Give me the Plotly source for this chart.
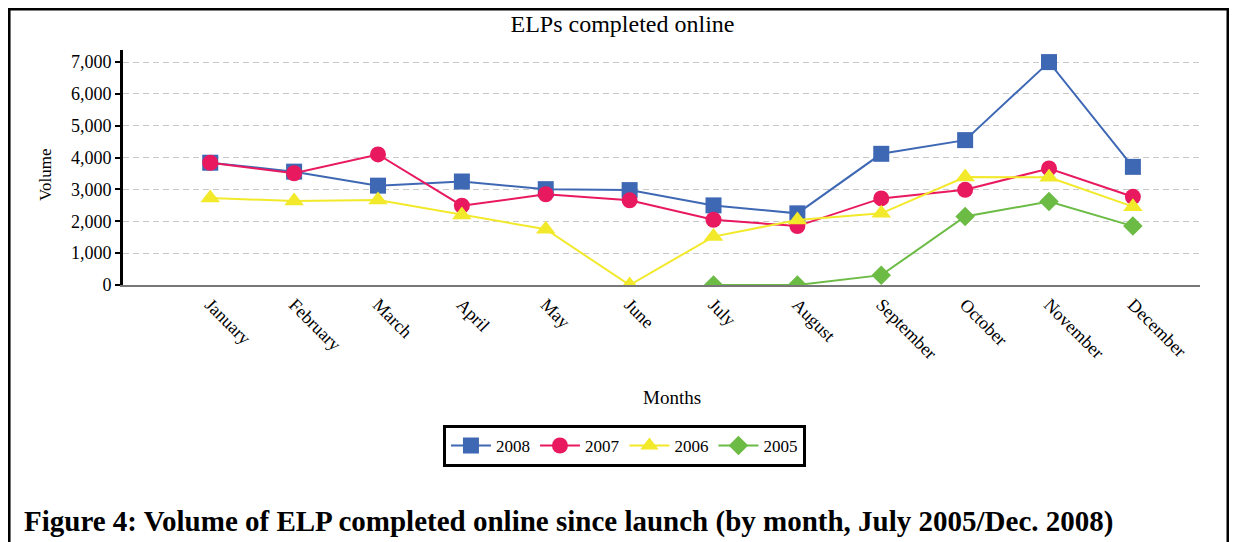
import plotly.graph_objects as go

months = ['January', 'February', 'March', 'April', 'May', 'June',
          'July', 'August', 'September', 'October', 'November', 'December']

vol_2008 = [3840, 3560, 3120, 3250, 3010, 2980, 2500, 2250, 4120, 4550, 7000, 3710]
vol_2007 = [3840, 3510, 4100, 2490, 2850, 2660, 2050, 1850, 2720, 2990, 3660, 2770]
vol_2006 = [2730, 2640, 2670, 2200, 1750, 0, 1520, 2040, 2250, 3390, 3380, 2460]
vol_2005 = [None, None, None, None, None, None, 0, 0, 310, 2150, 2620, 1850]

serif = 'Liberation Serif'

fig = go.Figure()

series = [
    ('2008', vol_2008, '#3f68b4', 'square', 16),
    ('2007', vol_2007, '#e8195f', 'circle', 16),
    ('2006', vol_2006, '#f2e92b', 'triangle-up', 17),
    ('2005', vol_2005, '#6cbb45', 'diamond', 15),
]
for name, vals, color, symbol, size in series:
    fig.add_trace(go.Scatter(x=months, y=vals, name=name, mode='lines+markers',
                             line=dict(color=color, width=2),
                             marker=dict(symbol=symbol, size=size, color=color),
                             connectgaps=False))

# the page body adds 8px margin, so the figure is 8px smaller and shifted
fig.update_layout(
    width=1229, height=534,
    margin=dict(l=115, r=37, t=42, b=257),
    paper_bgcolor='white', plot_bgcolor='white',
    font=dict(family=serif, color='black', size=15),
    title=dict(text='ELPs completed online', x=0.5, xanchor='center',
               y=1 - 16 / 534, yanchor='middle',
               font=dict(family=serif, size=24, color='black')),
    showlegend=True,
    legend=dict(orientation='h', x=0.4656, y=-0.685, xanchor='center', yanchor='middle',
                bordercolor='black', borderwidth=3, bgcolor='white',
                font=dict(family=serif, size=17), itemwidth=40),
)

fig.update_xaxes(range=[-1.04, 11.8], tickangle=45, showgrid=False,
                 showline=True, linecolor='#777777', linewidth=2,
                 ticks='', tickfont=dict(family=serif, size=18))
fig.update_yaxes(range=[0, 7380], tickvals=[0, 1000, 2000, 3000, 4000, 5000, 6000, 7000],
                 tickformat=',d', showgrid=True, gridcolor='#c8c8c8', griddash='6px,4px',
                 gridwidth=1, zeroline=False, showline=True, linecolor='black', linewidth=3,
                 ticks='outside', ticklen=5, tickwidth=2, tickcolor='black',
                 tickfont=dict(family=serif, size=18))

fig.add_annotation(text='Volume', xref='paper', yref='paper', x=-0.0724, y=0.468,
                   xanchor='center', yanchor='middle',
                   textangle=-90, showarrow=False, font=dict(family=serif, size=17))
fig.add_annotation(text='Months', xref='paper', yref='paper', x=0.5097, y=-0.4766,
                   xanchor='center', yanchor='middle',
                   showarrow=False, font=dict(family=serif, size=19))
fig.add_annotation(text='<b>Figure 4: Volume of ELP completed online since launch (by month, July 2005/Dec. 2008)</b>',
                   xref='paper', yref='paper', x=-0.0938, y=-1.0085, xanchor='left',
                   yanchor='middle', showarrow=False, font=dict(family=serif, size=29))

# outer frame
fig.add_shape(type='rect', xref='paper', yref='paper', x0=-0.1058, x1=1.026,
              y0=-1.2, y1=1.1745, line=dict(color='black', width=3))

fig.write_html('out.html')
